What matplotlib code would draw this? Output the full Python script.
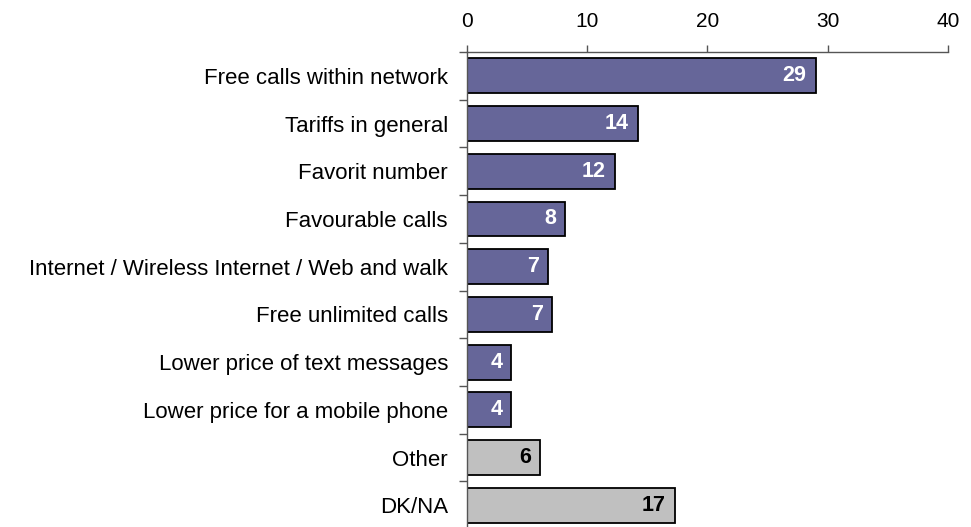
import matplotlib.pyplot as plt
import numpy as np

plt.rcParams['font.family'] = ['Liberation Sans', 'DejaVu Sans']

categories = ["Free calls within network", "Tariffs in general", "Favorit number",
              "Favourable calls", "Internet / Wireless Internet / Web and walk",
              "Free unlimited calls", "Lower price of text messages",
              "Lower price for a mobile phone", "Other", "DK/NA"]
values = [29.0, 14.2, 12.3, 8.2, 6.8, 7.1, 3.7, 3.7, 6.1, 17.3]
colors = ["#666699"] * 8 + ["#c0c0c0"] * 2
label_colors = ["white"] * 8 + ["black"] * 2
xticks = [0, 10, 20, 30, 40]

fig = plt.figure(figsize=(9.71, 5.27), dpi=100)
ax = fig.add_axes([0.4806, -0.004, 0.4957, 0.9053])

y = np.arange(len(categories))
bars = ax.barh(y, values, height=0.73, color=colors, edgecolor="black", linewidth=1.3)

for b, v, c in zip(bars, values, label_colors):
    ax.text(b.get_width() - 0.75, b.get_y() + b.get_height() / 2, f"{v:.0f}",
            ha="right", va="center", color=c, fontsize=15.5, fontweight="bold")

ax.set_xlim(0, 40)
ax.set_ylim(len(categories) - 0.5, -0.5)
ax.xaxis.tick_top()
ax.set_xticks(xticks)
ax.tick_params(axis="x", direction="out", length=5, width=1, color="#555555",
               labelsize=15, pad=10)

# category boundaries carry the ticks, names sit at bar centres
ax.set_yticks(np.arange(-0.5, len(categories), 1.0))
ax.set_yticklabels([])
ax.set_yticks(y, minor=True)
ax.set_yticklabels(categories, minor=True)
ax.tick_params(axis="y", which="major", direction="out", length=5.5, width=1, color="#555555")
ax.tick_params(axis="y", which="minor", length=0, labelsize=16, pad=13.5)

for side in ("right", "bottom"):
    ax.spines[side].set_visible(False)
for side in ("top", "left"):
    ax.spines[side].set_color("#555555")
    ax.spines[side].set_linewidth(1)

fig.savefig("out.png", dpi=100)
